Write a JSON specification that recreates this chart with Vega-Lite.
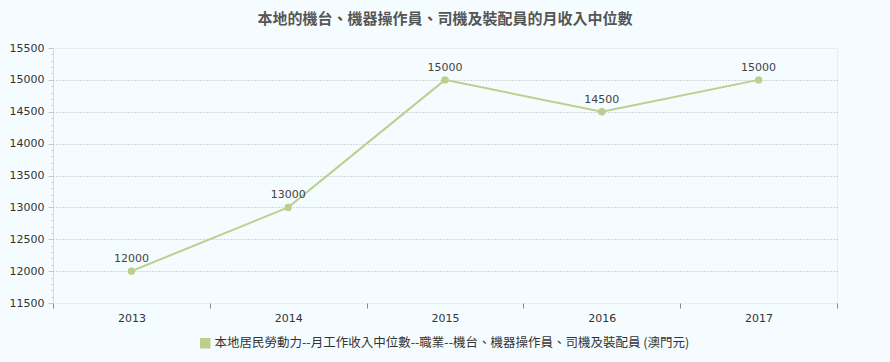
{
  "$schema": "https://vega.github.io/schema/vega-lite/v6.json",
  "width": 784,
  "height": 255,
  "autosize": {"type": "none"},
  "padding": {"left": 53, "top": 48, "right": 53, "bottom": 59},
  "background": "#f5fcff",
  "title": {
    "text": "本地的機台、機器操作員、司機及裝配員的月收入中位數",
    "font": "Noto Sans CJK TC",
    "fontSize": 15,
    "fontWeight": "bold",
    "color": "#555555",
    "anchor": "middle",
    "offset": 15
  },
  "data": {
    "values": [
      {"year": "2013", "value": 12000, "series": "本地居民勞動力--月工作收入中位數--職業--機台、機器操作員、司機及裝配員 (澳門元)"},
      {"year": "2014", "value": 13000, "series": "本地居民勞動力--月工作收入中位數--職業--機台、機器操作員、司機及裝配員 (澳門元)"},
      {"year": "2015", "value": 15000, "series": "本地居民勞動力--月工作收入中位數--職業--機台、機器操作員、司機及裝配員 (澳門元)"},
      {"year": "2016", "value": 14500, "series": "本地居民勞動力--月工作收入中位數--職業--機台、機器操作員、司機及裝配員 (澳門元)"},
      {"year": "2017", "value": 15000, "series": "本地居民勞動力--月工作收入中位數--職業--機台、機器操作員、司機及裝配員 (澳門元)"}
    ]
  },
  "encoding": {
    "x": {
      "field": "year",
      "type": "ordinal",
      "scale": {"type": "band", "paddingInner": 0, "paddingOuter": 0},
      "axis": {
        "title": null,
        "labelAngle": 0,
        "tickBand": "extent",
        "tickSize": 5,
        "tickColor": "#888888",
        "domain": false,
        "grid": false,
        "labelPadding": 4,
        "labelFont": "DejaVu Sans",
        "labelFontSize": 11,
        "labelColor": "#333333"
      }
    },
    "y": {
      "field": "value",
      "type": "quantitative",
      "scale": {"domain": [11500, 15500], "nice": false, "zero": false},
      "axis": {
        "title": null,
        "values": [11500,11600,11700,11800,11900,12000,12100,12200,12300,12400,12500,12600,12700,12800,12900,13000,13100,13200,13300,13400,13500,13600,13700,13800,13900,14000,14100,14200,14300,14400,14500,14600,14700,14800,14900,15000,15100,15200,15300,15400,15500],
        "format": "d",
        "labelExpr": "datum.value % 500 === 0 ? datum.label : ''",
        "labelOverlap": false,
        "labelFont": "DejaVu Sans",
        "labelFontSize": 11,
        "labelColor": "#333333",
        "labelPadding": 4,
        "tickColor": "#c8c8c8",
        "tickSize": {"condition": {"test": "datum.value % 500 === 0", "value": 5}, "value": 2},
        "domainColor": "#d8d8d8",
        "grid": true,
        "gridColor": "#b4b4b4",
        "gridDash": [1, 2],
        "gridOpacity": {"condition": {"test": "datum.value % 500 === 0 && datum.value > 11500 && datum.value < 15500", "value": 1}, "value": 0}
      }
    }
  },
  "layer": [
    {
      "mark": {"type": "line", "strokeWidth": 2},
      "encoding": {
        "color": {
          "field": "series",
          "type": "nominal",
          "scale": {"range": ["#bccf8c"]},
          "legend": {
            "title": null,
            "orient": "none",
            "legendX": 146,
            "legendY": 289,
            "direction": "horizontal",
            "symbolType": "square",
            "symbolSize": 110,
            "symbolFillColor": "#bccf8c",
            "symbolStrokeWidth": 0,
            "symbolOffset": 0,
            "labelOffset": 3,
            "labelFont": "Noto Sans CJK TC",
            "labelFontSize": 12.5,
            "labelColor": "#333333",
            "labelLimit": 800
          }
        }
      }
    },
    {
      "mark": {"type": "point", "filled": true, "size": 55, "opacity": 1, "color": "#bccf8c"},
      "encoding": {}
    },
    {
      "mark": {"type": "text", "dy": -12, "font": "DejaVu Sans", "fontSize": 11, "color": "#444444"},
      "encoding": {"text": {"field": "value", "type": "quantitative", "format": "d"}}
    }
  ],
  "config": {
    "view": {"stroke": "#ececec"}
  }
}
